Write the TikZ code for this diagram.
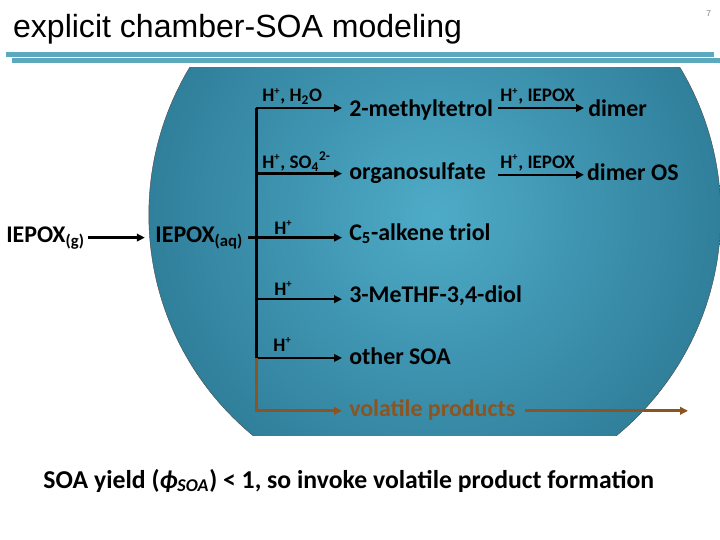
\documentclass[tikz,border=0pt]{standalone}
\usepackage{amsmath,amssymb}
\usepackage{fontspec}
\setmainfont{Carlito}
\newfontfamily\titlefont{Liberation Sans}
\usepackage{xcolor}
\usetikzlibrary{arrows.meta,positioning,calc}
\definecolor{ruleblue}{HTML}{5BA8BF}
\definecolor{dropin}{HTML}{4EABC7}
\definecolor{dropout}{HTML}{307F9B}
\definecolor{volbrown}{HTML}{8B5420}
\newcommand{\hplus}{H\textsuperscript{\fontsize{7.5}{8}\selectfont +}}

\begin{document}
\begin{tikzpicture}[
  rxn/.style={-{Triangle[length=2mm,width=1.9mm]}, line width=1.7pt},
  volrxn/.style={rxn, volbrown, line width=2.1pt},
  species/.style={font=\fontsize{17}{20}\selectfont\bfseries, anchor=base west, inner xsep=0.175cm, inner ysep=0pt},
  oxid/.style={font=\fontsize{13.6}{16}\selectfont\bfseries, anchor=base west, inner sep=0pt},
]
\useasboundingbox (0,0) rectangle (18,-13.5);

% Title and rules
\node[font=\titlefont\fontsize{22.8}{26}\selectfont, anchor=base west, inner sep=0pt] (title) at (0.32,-0.94) {explicit chamber-SOA modeling};
\node[font=\titlefont\fontsize{6}{7}\selectfont, text=gray, inner sep=0pt] (pagenum) at (17.72,-0.35) {7};
\fill[ruleblue] (0.15,-1.3) rectangle (17.85,-1.43);
\fill[ruleblue] (0.3,-1.45) rectangle (18,-1.58);

% Droplet
\begin{scope}
\clip (3,-1.68) rectangle (18,-10.88);
\shade[inner color=dropin, outer color=dropout, draw=black!70, line width=0.3pt] (10.87,-5.37) circle (7.15);
\end{scope}

% Gas to aqueous
\node[species, inner xsep=0pt] (gas) at (0.15,-6.05) {IEPOX\textsubscript{(g)}};
\node[species, inner xsep=0pt] (aq) at (3.88,-6.05) {IEPOX\textsubscript{(aq)}};
\coordinate (gasend) at (2.2,-5.94);
\coordinate (aqend) at (3.62,-5.94);
\draw[rxn] (gasend) -- (aqend);

% First generation products
\node[species] (tetrol) at (8.55,-2.91) {2-methyltetrol};
\node[species] (orgs) at (8.55,-4.48) {organosulfate};
\node[species] (triol) at (8.55,-6) {C\textsubscript{5}-alkene triol};
\node[species] (thf) at (8.55,-7.55) {3-MeTHF-3,4-diol};
\node[species] (other) at (8.55,-9.1) {other SOA};
\node[species, text=volbrown] (vol) at (8.55,-10.42) {volatile products};

% Branches
\coordinate (b1) at (6.41,-2.7);
\coordinate (b2) at (6.41,-4.34);
\coordinate (b3) at (6.2,-5.94);
\coordinate (b4) at (6.41,-7.48);
\coordinate (b5) at (6.41,-8.95);
\coordinate (b6) at (6.41,-10.27);
\draw[line width=2.6pt] (b1) -- (b5);
\draw[rxn] (b1) -- (b1 -| tetrol.west);
\draw[rxn] (b2) -- (b2 -| orgs.west);
\draw[rxn] (b3) -- (b3 -| triol.west);
\draw[rxn] (b4) -- (b4 -| thf.west);
\draw[rxn] (b5) -- (b5 -| other.west);
\draw[volrxn] (b5) -- (b6) -- (b6 -| vol.west);
\node[oxid] (ox1) at (6.55,-2.54) {\hplus, H\textsubscript{2}O};
\node[oxid] (ox2) at (6.55,-4.2) {\hplus, SO\textsubscript{4}\textsuperscript{2-}};
\node[oxid] (ox3) at (6.85,-5.85) {\hplus};
\node[oxid] (ox4) at (6.85,-7.38) {\hplus};
\node[oxid] (ox5) at (6.83,-8.78) {\hplus};

% Dimers
\node[species, inner xsep=0.1cm] (dimer) at (14.6,-2.9) {dimer};
\node[species, inner xsep=0.07cm] (dimos) at (14.6,-4.52) {dimer OS};
\coordinate (d1) at (12.45,-2.7);
\coordinate (d2) at (12.45,-4.37);
\draw[rxn] (d1) -- (d1 -| dimer.west);
\draw[rxn] (d2) -- (d2 -| dimos.west);
\node[oxid] (ox6) at (12.5,-2.54) {\hplus, IEPOX};
\node[oxid] (ox7) at (12.5,-4.2) {\hplus, IEPOX};

% Escape of volatiles
\coordinate (volout) at (17.2,-10.27);
\coordinate (volstart) at (13.12,-10.27);
\draw[volrxn] (volstart) -- (volout);

% Bottom line
\node[font=\fontsize{18.3}{22}\selectfont\bfseries, anchor=base west, inner sep=0pt] (yield) at (1.08,-12.2) {SOA yield ({\itshape ϕ}\textsubscript{\itshape SOA}) < 1, so invoke volatile product formation};

\end{tikzpicture}
\end{document}
